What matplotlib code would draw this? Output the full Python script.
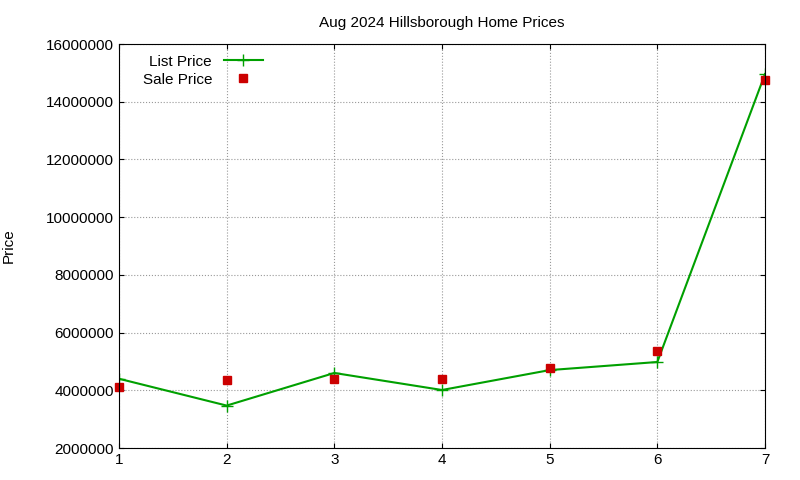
import matplotlib
matplotlib.use("Agg")
import matplotlib.pyplot as plt

x = [1, 2, 3, 4, 5, 6, 7]
list_price = [4400000, 3470000, 4600000, 4010000, 4700000, 4980000, 14960000]
sale_price = [4110000, 4360000, 4380000, 4390000, 4770000, 5360000, 14750000]
yticks = [2000000, 4000000, 6000000, 8000000, 10000000, 12000000, 14000000, 16000000]

plt.rcParams['font.family'] = ['Liberation Sans', 'DejaVu Sans']
fig = plt.figure(figsize=(8, 4.8), dpi=100)
ax = fig.add_axes([119/800, 1-448/480, (765-119)/800, (448-44)/480])
ax.plot(x, list_price, color='#00a000', marker='+', markersize=8, linewidth=1.5, label='List Price')
ax.plot(x, sale_price, color='#cc0000', marker='s', markersize=6, linestyle='none', label='Sale Price', clip_on=False)
ax.set_xlim(1, 7)
ax.set_ylim(2000000, 16000000)
ax.set_xticks(x)
ax.set_yticks(yticks)
ax.set_yticklabels([str(v) for v in yticks])
ax.tick_params(labelsize=11, direction='in', top=True, right=True)
ax.grid(True, color='#999999', linestyle=':', linewidth=0.8)
ax.set_ylabel('Price', fontsize=11)
ax.yaxis.set_label_coords(-0.16, 0.5)
ax.set_title('Aug 2024 Hillsborough Home Prices', fontsize=11, pad=12)
ax.legend(loc='upper left', markerfirst=False, frameon=False, fontsize=11,
          bbox_to_anchor=(0.02, 1.0), handlelength=2.5, borderpad=0.2, labelspacing=0.25)
fig.savefig('out.png', dpi=100)
